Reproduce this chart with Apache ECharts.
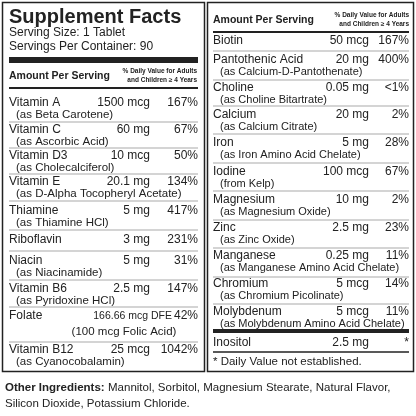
<!DOCTYPE html>
<html><head><meta charset="utf-8">
<script src="https://cdn.jsdelivr.net/npm/echarts@6/dist/echarts.min.js"></script>
<style>html,body{margin:0;padding:0;background:#fff}#c{width:416px;height:416px}</style>
</head><body><div id="c"></div>
<script>
const leftNames=["Vitamin A","Vitamin C","Vitamin D3","Vitamin E","Thiamine","Riboflavin","Niacin","Vitamin B6","Folate","Vitamin B12"];
const leftSubs=["(as Beta Carotene)","(as Ascorbic Acid)","(as Cholecalciferol)","(as D-Alpha Tocopheryl Acetate)","(as Thiamine HCl)","","(as Niacinamide)","(as Pyridoxine HCl)","(100 mcg Folic Acid)","(as Cyanocobalamin)"];
const leftAmounts=["1500 mcg","60 mg","10 mcg","20.1 mg","5 mg","3 mg","5 mg","2.5 mg","166.66 mcg DFE","25 mcg"];
const leftPercents=["167%","67%","50%","134%","417%","231%","31%","147%","42%","1042%"];
const rightNames=["Biotin","Pantothenic Acid","Choline","Calcium","Iron","Iodine","Magnesium","Zinc","Manganese","Chromium","Molybdenum","Inositol"];
const rightSubs=["","(as Calcium-D-Pantothenate)","(as Choline Bitartrate)","(as Calcium Citrate)","(as Iron Amino Acid Chelate)","(from Kelp)","(as Magnesium Oxide)","(as Zinc Oxide)","(as Manganese Amino Acid Chelate)","(as Chromium Picolinate)","(as Molybdenum Amino Acid Chelate)",""];
const rightAmounts=["50 mcg","20 mg","0.05 mg","20 mg","5 mg","100 mcg","10 mg","2.5 mg","0.25 mg","5 mcg","5 mcg","2.5 mg"];
const rightPercents=["167%","400%","<1%","2%","28%","67%","2%","23%","11%","14%","11%","*"];
const titleText="Supplement Facts";
const servingLines=["Serving Size: 1 Tablet","Servings Per Container: 90"];
const headerLeft="Amount Per Serving";
const headerRight=["% Daily Value for Adults","and Children \u2265 4 Years"];
const footnote="* Daily Value not established.";
const otherIngredients=["Mannitol, Sorbitol, Magnesium Stearate, Natural Flavor,","Silicon Dioxide, Potassium Chloride."];

const F='"Liberation Sans", Arial, sans-serif';
const g=[];
function T(x,y,s,size,opt){opt=opt||{};g.push({type:'text',x:x,y:y,style:{text:s,font:(opt.w||'normal')+' '+size+'px '+F,fill:'#222',textAlign:opt.a||'left',textVerticalAlign:'middle'}});}
function L(x1,y,x2,w,c){g.push({type:'rect',shape:{x:x1,y:y-w/2,width:x2-x1,height:w},style:{fill:c||'#222'}});}
g.push({type:'rect',shape:{x:2.5,y:2.5,width:202,height:369},style:{fill:'none',stroke:'#222',lineWidth:1.5}});
g.push({type:'rect',shape:{x:207.5,y:2.5,width:206,height:369},style:{fill:'none',stroke:'#222',lineWidth:1.5}});
T(9,17,titleText,20,{w:'900'});
T(9,33,servingLines[0],12);T(9,47,servingLines[1],12);
L(9,60,198,6);
T(9,76,headerLeft,10.5,{w:'bold'});
T(197,71,headerRight[0],6.5,{w:'bold',a:'right'});T(197,80,headerRight[1],6.5,{w:'bold',a:'right'});
L(9,88,198,2);
const lTops=[103,130,156,182,211,240,261,289,316,350];
const lDiv=[122,148,174,201,230,251,280,307,342];
leftNames.forEach((n,i)=>{
  const y=lTops[i];
  T(9,y,n,12);
  if(i===8) T(172,y,leftAmounts[i],10.5,{a:'right'}); else T(150,y,leftAmounts[i],12,{a:'right'});
  T(198,y,leftPercents[i],12,{a:'right'});
  if(leftSubs[i]){ if(i===8) T(124,y+16,leftSubs[i],11.5,{a:'center'}); else T(16,y+12,leftSubs[i],11.5);}
});
lDiv.forEach(y=>L(9,y,198,0.8,'#aaa'));
T(213,20,headerLeft,10.5,{w:'bold'});
T(409,15,headerRight[0],6.5,{w:'bold',a:'right'});T(409,24,headerRight[1],6.5,{w:'bold',a:'right'});
L(213,32,409,2);
const rTops=[41,60,88,115,143,172,200,228,256,284,312,343];
const rDiv=[51,80,106,134,163,191,220,248,277,304];
rightNames.forEach((n,i)=>{
  const y=rTops[i];
  T(213,y,n,12);
  T(369,y,rightAmounts[i],12,{a:'right'});
  T(409,y,rightPercents[i],12,{a:'right'});
  if(rightSubs[i]) T(220,y+12,rightSubs[i],11);
});
rDiv.forEach(y=>L(213,y,409,0.8,'#aaa'));
L(213,331,409,4);
L(213,352,409,1.5);
T(213,362,footnote,11.5);
g.push({type:'text',x:5,y:388,style:{rich:{b:{font:'bold 11.5px '+F,fill:'#222'},n:{font:'11.5px '+F,fill:'#222'}},text:'{b|Other Ingredients:} {n|'+otherIngredients[0]+'}',textVerticalAlign:'middle'}});
T(5,404,otherIngredients[1],11.5);
const chart=echarts.init(document.getElementById('c'));
chart.setOption({animation:false,graphic:g});
</script></body></html>
